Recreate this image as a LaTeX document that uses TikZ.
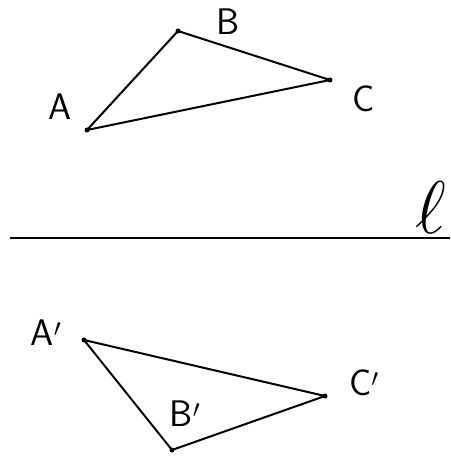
\documentclass[tikz,border=0pt]{standalone}
\usepackage{fontspec}
\usepackage{tikz}
\usetikzlibrary{positioning, calc}

\tikzset{
  pt/.style={circle, fill=black, inner sep=0pt, minimum size=5pt},
  lbl/.style={font=\fontsize{37}{37}\selectfont\sffamily},
  side/.style={line width=2pt, line join=round}
}

\begin{document}
\begin{tikzpicture}[x=1pt, y=-1pt]
  \useasboundingbox (0,0) rectangle (450,465);

  % original triangle
  \node[pt] (A) at (87,130) {};
  \node[pt] (B) at (178,31) {};
  \node[pt] (C) at (330,80) {};
  \draw[side] (A.center) -- (B.center) -- (C.center) -- cycle;
  \node[lbl] (lA) at (60,107) {A};
  \node[lbl] (lB) at (228,22) {B};
  \node[lbl] (lC) at (364,99) {C};

  % mirror line
  \coordinate (l0) at (10,238);
  \coordinate (l1) at (450,238);
  \draw[line width=2.4pt] (l0) -- (l1);
  \node[lbl] (ll) at (431,208) {\scalebox{3}{$\ell$}};

  % image triangle
  \node[pt] (A') at (84,340) {};
  \node[pt] (B') at (172,450) {};
  \node[pt] (C') at (325,396) {};
  \draw[side] (A'.center) -- (B'.center) -- (C'.center) -- cycle;
  \node[lbl] (lA') at (46,333) {A$'$};
  \node[lbl] (lB') at (185,414) {B$'$};
  \node[lbl] (lC') at (364,383) {C$'$};
\end{tikzpicture}
\end{document}
